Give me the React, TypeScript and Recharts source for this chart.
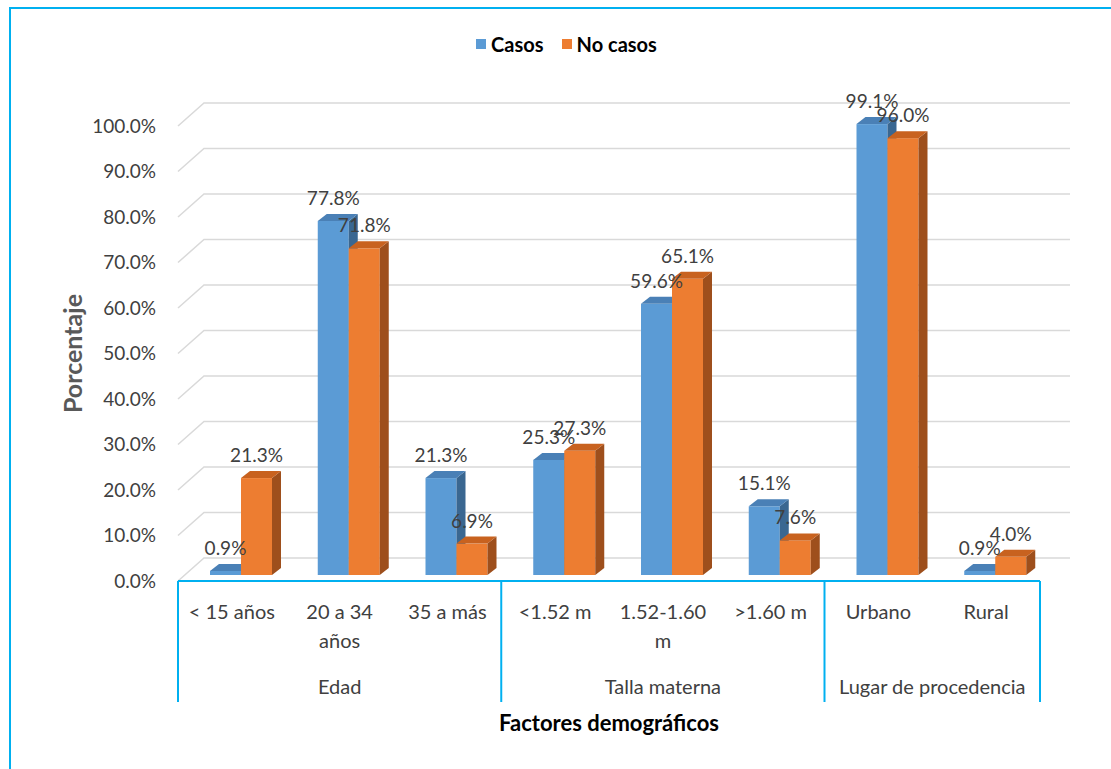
import { BarChart, Bar, XAxis, YAxis, CartesianGrid, LabelList } from 'recharts';

// Categories, grouped along the x axis
const categories = ['< 15 años', '20 a 34\naños', '35 a más', '<1.52 m', '1.52-1.60\nm', '>1.60 m', 'Urbano', 'Rural'];
const groupNames = ['Edad', 'Talla materna', 'Lugar de procedencia'];
const groupSizes = [3, 3, 2];

// Percentages per series
const seriesNames = ['Casos', 'No casos'];
const casos = [0.9, 77.8, 21.3, 25.3, 59.6, 15.1, 99.1, 0.9];
const noCasos = [21.3, 71.8, 6.9, 27.3, 65.1, 7.6, 96.0, 4.0];

const yTicks = [0, 10, 20, 30, 40, 50, 60, 70, 80, 90, 100];

const data = categories.map((name, i) => ({ name, casos: casos[i], noCasos: noCasos[i] }));

const W = 1111;
const H = 769;
const MARGIN = { top: 126, right: 71, bottom: 48, left: 0 };
const Y_AXIS_W = 178;
const X_AXIS_H = 140;
const PLOT_W = W - MARGIN.left - MARGIN.right - Y_AXIS_W;
const BAND = PLOT_W / categories.length;

const FONT = 'Lato, "Open Sans", sans-serif';
const CYAN = '#00B0F0';
const TEXT = '#404040';

// 3D look: bar sits slightly back from the floor edge, with a depth of (DX, DY)
const OX = 9;
const OY = -6;
const DX = 9;
const DY = 7;

const BLUE = { front: '#5B9BD5', top: '#4A80B6', side: '#3A6791' };
const ORANGE = { front: '#ED7D31', top: '#C8621F', side: '#9E4F1C' };

function Bar3D(props: any) {
  const { x, y, width, height, colors } = props;
  if (x == null || y == null) return null;
  const fx = x + OX;
  const fy = y + OY;
  const w = width;
  const h = Math.max(height, 0);
  return (
    <g>
      <rect x={fx} y={fy} width={w} height={h} fill={colors.front} />
      <path
        d={`M${fx + w},${fy} L${fx + w + DX},${fy - DY} L${fx + w + DX},${fy + h - DY} L${fx + w},${fy + h} Z`}
        fill={colors.side}
      />
      <path
        d={`M${fx},${fy} L${fx + DX},${fy - DY} L${fx + w + DX},${fy - DY} L${fx + w},${fy} Z`}
        fill={colors.top}
      />
    </g>
  );
}

function ValueLabel(props: any) {
  const { x, y, width, value } = props;
  return (
    <text
      x={x + OX + width / 2}
      y={y + OY - DY - 9}
      textAnchor="middle"
      fill={TEXT}
      fontSize={19}
      fontFamily={FONT}
    >
      {`${Number(value).toFixed(1)}%`}
    </text>
  );
}

// Grid lines run along the left wall, then across the back
function GridLine(props: any) {
  const { x1, y1, x2 } = props;
  return (
    <path
      key={`g-${y1}`}
      d={`M${x1},${y1} L${x1 + 26},${y1 - 23} L${x2 + 30},${y1 - 23}`}
      stroke="#D9D9D9"
      strokeWidth={1.5}
      fill="none"
    />
  );
}

const groupStarts = groupSizes.map((_, g) => groupSizes.slice(0, g).reduce((a, b) => a + b, 0));

function CategoryTick(props: any) {
  const { x, y, payload } = props;
  const index = payload?.index ?? props.index;
  const lines = String(payload.value).split('\n');
  const g = groupStarts.indexOf(index);
  const last = index === categories.length - 1;
  return (
    <g>
      {lines.map((line, i) => (
        <text
          key={i}
          x={x}
          y={y + 38}
          dy={i * 29}
          textAnchor="middle"
          fill={TEXT}
          fontSize={20}
          fontFamily={FONT}
        >
          {line}
        </text>
      ))}
      {g >= 0 && (
        <>
          <line x1={x - BAND / 2} y1={y} x2={x - BAND / 2} y2={y + 121} stroke={CYAN} strokeWidth={2} />
          <text
            x={x + ((groupSizes[g] - 1) * BAND) / 2}
            y={y + 113}
            textAnchor="middle"
            fill={TEXT}
            fontSize={20}
            fontFamily={FONT}
          >
            {groupNames[g]}
          </text>
        </>
      )}
      {last && <line x1={x + BAND / 2} y1={y} x2={x + BAND / 2} y2={y + 121} stroke={CYAN} strokeWidth={2} />}
    </g>
  );
}

function YTitle(props: any) {
  const vb = props.viewBox || { x: 0, y: MARGIN.top, width: Y_AXIS_W, height: 455 };
  const cx = 72;
  const cy = vb.y + vb.height / 2;
  return (
    <text
      x={cx}
      y={cy}
      transform={`rotate(-90, ${cx}, ${cy})`}
      textAnchor="middle"
      dominantBaseline="central"
      fill="#595959"
      fontSize={25}
      fontWeight="bold"
      fontFamily={FONT}
    >
      Porcentaje
    </text>
  );
}

function XTitle(props: any) {
  const vb = props.viewBox || { x: Y_AXIS_W, y: H - MARGIN.bottom - X_AXIS_H, width: PLOT_W, height: X_AXIS_H };
  return (
    <text
      x={vb.x + vb.width / 2}
      y={vb.y + 141}
      textAnchor="middle"
      dominantBaseline="central"
      fill="#000"
      fontSize={22}
      fontWeight="bold"
      fontFamily={FONT}
    >
      Factores demográficos
    </text>
  );
}

export default function App() {
  const legendColors = [BLUE.front, ORANGE.front];
  return (
    <div style={{ position: 'absolute', left: 0, top: 0, width: W, height: H, overflow: 'hidden', background: '#fff' }}>
      <div
        style={{
          position: 'absolute',
          left: 9,
          top: 7,
          width: W,
          height: H,
          border: `2px solid ${CYAN}`,
        }}
      />
      <div
        style={{
          position: 'absolute',
          top: 32,
          left: 0,
          width: W,
          display: 'flex',
          justifyContent: 'center',
          gap: 18,
          fontFamily: FONT,
          fontWeight: 'bold',
          fontSize: 20,
          color: '#000',
          paddingLeft: 22,
          boxSizing: 'border-box',
        }}
      >
        {seriesNames.map((s, i) => (
          <div key={s} style={{ display: 'flex', alignItems: 'center', gap: 5 }}>
            <span style={{ display: 'inline-block', width: 10, height: 10, background: legendColors[i] }} />
            <span>{s}</span>
          </div>
        ))}
      </div>
      <div style={{ position: 'absolute', left: 0, top: 0 }}>
        <BarChart width={W} height={H} data={data} margin={MARGIN} barGap={0} barSize={31} style={{ fontFamily: FONT }}>
          <CartesianGrid vertical={false} horizontal={(p: any) => <GridLine {...p} />} />
          <XAxis
            dataKey="name"
            height={X_AXIS_H}
            interval={0}
            tickLine={false}
            tickSize={0}
            tickMargin={0}
            axisLine={{ stroke: CYAN, strokeWidth: 2 }}
            tick={<CategoryTick />}
            label={<XTitle />}
          />
          <YAxis
            width={Y_AXIS_W}
            domain={[0, 100]}
            ticks={yTicks}
            interval={0}
            axisLine={false}
            tickLine={false}
            tickMargin={16}
            tickFormatter={(v: number) => `${v.toFixed(1)}%`}
            tick={{ fill: TEXT, fontSize: 19, fontFamily: FONT }}
            label={<YTitle />}
          />
          <Bar dataKey="casos" name={seriesNames[0]} fill={BLUE.front} isAnimationActive={false} shape={(p: any) => <Bar3D {...p} colors={BLUE} />}>
            <LabelList dataKey="casos" content={<ValueLabel />} />
          </Bar>
          <Bar dataKey="noCasos" name={seriesNames[1]} fill={ORANGE.front} isAnimationActive={false} shape={(p: any) => <Bar3D {...p} colors={ORANGE} />}>
            <LabelList dataKey="noCasos" content={<ValueLabel />} />
          </Bar>
        </BarChart>
      </div>
    </div>
  );
}
